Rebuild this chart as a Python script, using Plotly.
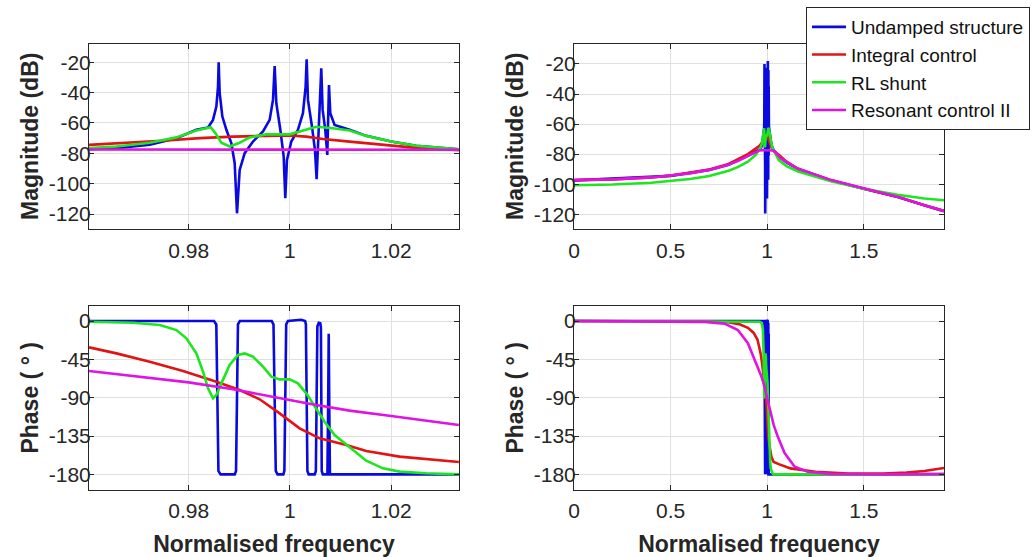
import plotly.graph_objects as go

# ---------------- data ----------------
# Zoomed view (normalised frequency 0.96 .. 1.033)
f_undamped_mag = [0.9603, 0.96572, 0.9723, 0.97757, 0.98151, 0.98382, 0.9848, 0.98546, 0.98579, 0.98592,
                  0.98612, 0.98665, 0.98744, 0.98842, 0.98908, 0.98954, 0.99007, 0.99106, 0.9927, 0.99468,
                  0.99599, 0.99665, 0.99698, 0.99731, 0.9981, 0.99876, 0.99908, 0.99941, 1.00027, 1.00158,
                  1.00257, 1.0031, 1.0033, 1.00356, 1.00435, 1.00494, 1.00527, 1.0056, 1.00593, 1.00619,
                  1.00646, 1.00698, 1.00738, 1.00757, 1.00771, 1.00797, 1.00882, 1.01179, 1.01508, 1.02,
                  1.02494, 1.03337]
undamped_mag = [-77.3, -76.6, -74.4, -70.0, -64.5, -63.0, -58.0, -49.2, -36.0, -20.0,
                -40.4, -55.8, -64.5, -73.3, -86.4, -119.5, -90.9, -79.9, -72.2, -65.6,
                -58.0, -44.8, -22.5, -47.0, -64.5, -82.0, -109.5, -84.3, -72.2, -64.5,
                -53.6, -36.0, -18.0, -44.8, -62.3, -77.7, -97.0, -71.1, -55.8, -24.0,
                -51.4, -64.5, -81.0, -55.8, -35.0, -53.6, -61.3, -64.5, -68.5, -72.2,
                -75.0, -77.3]

f_integral_mag = [0.9603, 0.96901, 0.97559, 0.98217, 0.98875, 0.99533, 0.99994, 1.00323, 1.00652,
                  1.01179, 1.01837, 1.02494, 1.03337]
integral_mag = [-74.4, -73.0, -71.5, -70.0, -69.0, -68.5, -68.3, -69.0, -70.6, -72.3, -74.5, -76.4, -78.0]

f_rl_mag = [0.9603, 0.96572, 0.9723, 0.97757, 0.98151, 0.98434, 0.98533, 0.98645, 0.98809, 0.99007,
            0.99204, 0.99533, 0.99994, 1.00191, 1.0052, 1.00849, 1.01179, 1.01508, 1.02, 1.02494, 1.03337]
rl_mag = [-76.6, -75.5, -73.0, -69.5, -65.0, -62.8, -67.0, -73.0, -75.5, -73.0,
          -69.5, -67.5, -67.5, -65.5, -62.5, -63.5, -65.0, -68.5, -72.2, -75.0, -77.3]

f_resonant_mag = [0.9603, 0.98, 1.0, 1.02, 1.03337]
resonant_mag = [-77.5, -77.4, -77.3, -77.4, -77.6]

f_undamped_ph = [0.9603, 0.985, 0.98545, 0.98566, 0.98587, 0.9863, 0.9891, 0.98935, 0.98954, 0.98973,
                 0.9901, 0.9964, 0.99675, 0.99698, 0.9972, 0.99755, 0.9987, 0.9989, 0.99908, 0.99926,
                 0.9996, 1.0022, 1.003, 1.00315, 1.0033, 1.00345, 1.0037, 1.0049, 1.00512, 1.00527,
                 1.00542, 1.0057, 1.006, 1.00612, 1.00619, 1.00628, 1.0065, 1.0074, 1.00755, 1.00766,
                 1.00777, 1.0079, 1.03337]
undamped_ph = [0, 0, -4, -90, -176, -180, -180, -176, -90, -4,
               0, 0, -4, -90, -176, -180, -180, -176, -90, -4,
               0, 1.5, 0, -4, -90, -176, -180, -180, -176, -90,
               -6, -2, -2.5, -8, -90, -176, -180, -180, -100, -15,
               -100, -180, -180]

f_integral_ph = [0.9603, 0.96572, 0.9723, 0.97888, 0.98546, 0.99007, 0.99402, 0.99797, 1.00191,
                 1.00586, 1.01113, 1.01508, 1.02166, 1.02824, 1.03337]
integral_ph = [-30.9, -38.0, -47.7, -58.7, -71.2, -81.0, -91.9, -108.4, -126.0,
               -137.7, -145.5, -152.6, -159.2, -163.1, -165.5]

f_rl_ph = [0.9603, 0.96901, 0.97427, 0.97757, 0.97954, 0.98151, 0.98283, 0.98382, 0.9848, 0.98546,
           0.98645, 0.98809, 0.98974, 0.99106, 0.9927, 0.99468, 0.99632, 0.99797, 0.99994, 1.00158,
           1.00323, 1.00488, 1.00685, 1.00882, 1.0108, 1.0131, 1.01508, 1.01837, 1.02166, 1.02692, 1.03337]
rl_ph = [-0.8, -2.0, -4.7, -10.6, -20.3, -38.0, -59.5, -79.0, -90.8, -86.9,
         -73.2, -51.6, -39.9, -38.0, -41.9, -53.6, -65.3, -68.5, -68.5, -73.2,
         -84.9, -100.5, -118.2, -133.8, -143.6, -155.3, -164.0, -173.0, -176.8, -178.8, -180.0]

f_resonant_ph = [0.9603, 0.96901, 0.98, 0.98875, 0.99533, 0.99994, 1.0052, 1.01179, 1.02, 1.03337]
resonant_ph = [-58.7, -64.6, -72.0, -80.2, -88.0, -92.7, -98.6, -105.2, -111.5, -122.0]

# Wide view (normalised frequency 0 .. 1.92): points outside the zoomed band
f_wide_lo_undamped_mag = [0.0, 0.5, 0.7, 0.8, 0.9, 0.94]
wide_lo_undamped_mag = [-97.5, -94.5, -90.5, -87.0, -81.0, -78.5]
f_wide_hi_undamped_mag = [1.06, 1.1, 1.16, 1.33, 1.5, 1.675, 1.813, 1.915]
wide_hi_undamped_mag = [-81.5, -85.5, -90.0, -97.5, -103.0, -108.5, -114.0, -118.0]

f_wide_lo_integral_mag = [0.0, 0.2, 0.4, 0.5, 0.7, 0.8, 0.9, 0.94]
wide_lo_integral_mag = [-97.3, -96.8, -95.5, -94.3, -90.3, -86.5, -80.0, -76.5]
f_wide_hi_integral_mag = [1.06, 1.1, 1.16, 1.33, 1.5, 1.675, 1.813, 1.915]
wide_hi_integral_mag = [-80.5, -85.0, -89.8, -97.3, -103.0, -108.4, -114.0, -117.8]

f_wide_lo_rl_mag = [0.0, 0.2, 0.4, 0.5, 0.6, 0.7, 0.8, 0.85, 0.9, 0.94]
wide_lo_rl_mag = [-100.7, -100.2, -99.0, -98.0, -96.5, -94.5, -91.0, -88.5, -85.0, -80.5]
f_wide_hi_rl_mag = [1.06, 1.1, 1.16, 1.33, 1.5, 1.675, 1.813, 1.915]
wide_hi_rl_mag = [-84.0, -88.0, -91.5, -98.0, -103.0, -107.0, -109.5, -110.7]

f_wide_lo_resonant_mag = [0.0, 0.2, 0.4, 0.5, 0.6, 0.7, 0.8, 0.85, 0.9, 0.94]
wide_lo_resonant_mag = [-97.3, -96.8, -95.5, -94.3, -92.8, -90.5, -87.0, -84.5, -81.5, -79.0]
f_wide_hi_resonant_mag = [1.072, 1.158, 1.33, 1.503, 1.675, 1.813, 1.915]
wide_hi_resonant_mag = [-83.0, -89.6, -97.3, -103.0, -108.4, -114.0, -117.8]

f_wide_lo_undamped_ph = [0.0, 0.9]
wide_lo_undamped_ph = [0, 0]
f_wide_hi_undamped_ph = [1.915]
wide_hi_undamped_ph = [-180]

f_wide_lo_integral_ph = [0.0, 0.7, 0.8, 0.86, 0.9, 0.93, 0.95]
wide_lo_integral_ph = [0, -0.5, -1.5, -4.0, -8.0, -14.0, -22.0]
f_wide_hi_integral_ph = [1.06, 1.12, 1.25, 1.42, 1.6, 1.72, 1.813, 1.915]
wide_hi_integral_ph = [-168.0, -173.0, -177.0, -179.0, -179.0, -178.0, -176.0, -172.5]

f_wide_lo_rl_ph = [0.0, 0.9, 0.95]
wide_lo_rl_ph = [0, 0, -0.3]
f_wide_hi_rl_ph = [1.05, 1.915]
wide_hi_rl_ph = [-180, -180]

f_wide_lo_resonant_ph = [0.0, 0.5, 0.676, 0.779, 0.848, 0.9, 0.943]
wide_lo_resonant_ph = [0, -0.3, -1.0, -3.0, -10.6, -26.0, -49.6]
f_wide_hi_resonant_ph = [1.055, 1.09, 1.142, 1.21, 1.33, 1.6, 1.915]
wide_hi_resonant_ph = [-136.0, -155.0, -171.0, -177.0, -179.5, -180.0, -179.5]

names = ["Undamped structure", "Integral control", "RL shunt", "Resonant control II"]
colors = ["#0a0ae0", "#e01414", "#1ee61e", "#e014e0"]

zoom_ticks = [0.98, 1.0, 1.02]
zoom_ticktext = ["0.98", "1", "1.02"]
wide_ticks = [0, 0.5, 1, 1.5]
wide_ticktext = ["0", "0.5", "1", "1.5"]
mag_ticks = [-120, -100, -80, -60, -40, -20]
mag_ticktext = ["-120", "-100", "-80", "-60", "-40", "-20"]
ph_ticks = [-180, -135, -90, -45, 0]
ph_ticktext = ["-180", "-135", "-90", "-45", "0"]

zoom_mag = [(f_undamped_mag, undamped_mag), (f_integral_mag, integral_mag),
            (f_rl_mag, rl_mag), (f_resonant_mag, resonant_mag)]
zoom_ph = [(f_undamped_ph, undamped_ph), (f_integral_ph, integral_ph),
           (f_rl_ph, rl_ph), (f_resonant_ph, resonant_ph)]
wide_mag_lo = [(f_wide_lo_undamped_mag, wide_lo_undamped_mag), (f_wide_lo_integral_mag, wide_lo_integral_mag),
               (f_wide_lo_rl_mag, wide_lo_rl_mag), (f_wide_lo_resonant_mag, wide_lo_resonant_mag)]
wide_mag_hi = [(f_wide_hi_undamped_mag, wide_hi_undamped_mag), (f_wide_hi_integral_mag, wide_hi_integral_mag),
               (f_wide_hi_rl_mag, wide_hi_rl_mag), (f_wide_hi_resonant_mag, wide_hi_resonant_mag)]
wide_ph_lo = [(f_wide_lo_undamped_ph, wide_lo_undamped_ph), (f_wide_lo_integral_ph, wide_lo_integral_ph),
              (f_wide_lo_rl_ph, wide_lo_rl_ph), (f_wide_lo_resonant_ph, wide_lo_resonant_ph)]
wide_ph_hi = [(f_wide_hi_undamped_ph, wide_hi_undamped_ph), (f_wide_hi_integral_ph, wide_hi_integral_ph),
              (f_wide_hi_rl_ph, wide_hi_rl_ph), (f_wide_hi_resonant_ph, wide_hi_resonant_ph)]

# ---------------- figure ----------------
FONT = "Liberation Sans, Arial, Helvetica, sans-serif"
LW = 2.6
fig = go.Figure()

for i in range(4):
    fz, mz = zoom_mag[i]
    fig.add_trace(go.Scatter(x=fz, y=mz, mode="lines", name=names[i], legendgroup=names[i],
                             line=dict(color=colors[i], width=LW), xaxis="x", yaxis="y", showlegend=True))
    fp, pz = zoom_ph[i]
    fig.add_trace(go.Scatter(x=fp, y=pz, mode="lines", name=names[i], legendgroup=names[i],
                             line=dict(color=colors[i], width=LW), xaxis="x3", yaxis="y3", showlegend=False))
    fw = wide_mag_lo[i][0] + fz + wide_mag_hi[i][0]
    mw = wide_mag_lo[i][1] + mz + wide_mag_hi[i][1]
    fig.add_trace(go.Scatter(x=fw, y=mw, mode="lines", name=names[i], legendgroup=names[i],
                             line=dict(color=colors[i], width=LW), xaxis="x2", yaxis="y2", showlegend=False))
    fw = wide_ph_lo[i][0] + fp + wide_ph_hi[i][0]
    pw = wide_ph_lo[i][1] + pz + wide_ph_hi[i][1]
    fig.add_trace(go.Scatter(x=fw, y=pw, mode="lines", name=names[i], legendgroup=names[i],
                             line=dict(color=colors[i], width=LW), xaxis="x4", yaxis="y4", showlegend=False))

W, H = 1032, 557
xl = [89 / W, 459 / W]
xr = [574 / W, 944 / W]
yt = [1 - 228.5 / H, 1 - 44 / H]
yb = [1 - 490 / H, 1 - 305.7 / H]

axis_common = dict(showline=True, linecolor="#262626", linewidth=1, mirror="ticks",
                   ticks="inside", ticklen=5, tickcolor="#262626", tickwidth=1,
                   showgrid=True, gridcolor="#e0e0e0", gridwidth=1, zeroline=False,
                   tickfont=dict(family=FONT, size=21, color="#262626"), automargin=False)
title_font = dict(family=FONT, size=23, color="#262626", weight="bold")
XSO, YSO = 3, -7

fig.update_layout(
    width=W, height=H, margin=dict(l=0, r=0, t=0, b=0, autoexpand=False),
    paper_bgcolor="white", plot_bgcolor="white",
    font=dict(family=FONT, color="#262626"),
    xaxis=dict(domain=xl, anchor="y", range=[0.9603, 1.0334], tickvals=zoom_ticks, ticktext=zoom_ticktext,
               ticklabelstandoff=XSO, **axis_common),
    yaxis=dict(domain=yt, anchor="x", range=[-129.5, -8], tickvals=mag_ticks, ticktext=mag_ticktext,
               ticklabelstandoff=YSO,
               title=dict(text="Magnitude (dB)", font=title_font, standoff=3), **axis_common),
    xaxis2=dict(domain=xr, anchor="y2", range=[0, 1.915], tickvals=wide_ticks, ticktext=wide_ticktext,
                ticklabelstandoff=XSO, **axis_common),
    yaxis2=dict(domain=yt, anchor="x2", range=[-129.5, -6.7], tickvals=mag_ticks, ticktext=mag_ticktext,
                ticklabelstandoff=YSO,
                title=dict(text="Magnitude (dB)", font=title_font, standoff=3), **axis_common),
    xaxis3=dict(domain=xl, anchor="y3", range=[0.9603, 1.0334], tickvals=zoom_ticks, ticktext=zoom_ticktext,
                ticklabelstandoff=2,
                title=dict(text="Normalised frequency", font=title_font, standoff=14), **axis_common),
    yaxis3=dict(domain=yb, anchor="x3", range=[-198.4, 18], tickvals=ph_ticks, ticktext=ph_ticktext,
                ticklabelstandoff=YSO,
                title=dict(text="Phase ( ° )", font=title_font, standoff=3), **axis_common),
    xaxis4=dict(domain=xr, anchor="y4", range=[0, 1.915], tickvals=wide_ticks, ticktext=wide_ticktext,
                ticklabelstandoff=2,
                title=dict(text="Normalised frequency", font=title_font, standoff=14), **axis_common),
    yaxis4=dict(domain=yb, anchor="x4", range=[-198.4, 18], tickvals=ph_ticks, ticktext=ph_ticktext,
                ticklabelstandoff=YSO,
                title=dict(text="Phase ( ° )", font=title_font, standoff=3), **axis_common),
    legend=dict(x=1030 / W, y=1 - 7 / H, xanchor="right", yanchor="top",
                bgcolor="white", bordercolor="#262626", borderwidth=1,
                font=dict(family=FONT, size=19, color="#111111"),
                itemwidth=34, tracegroupgap=0, traceorder="normal"),
    showlegend=True,
)

# remove the browser's default 8px page margin so the figure sits at the window origin
fig.write_html("out.html", config={"displayModeBar": False},
               post_script="document.body.style.margin='0px';")
